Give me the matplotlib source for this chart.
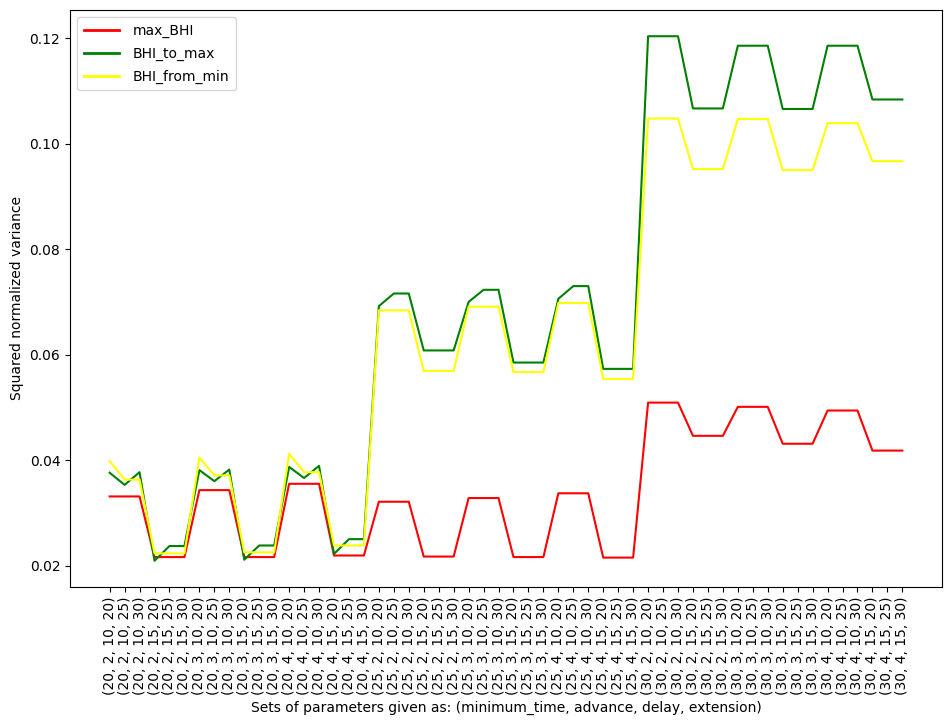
import itertools
import matplotlib
matplotlib.use("Agg")
import matplotlib.pyplot as plt

minimum_time = [20, 25, 30]
advance = [2, 3, 4]
delay = [10, 15]
extension = [20, 25, 30]

labels = [str(t) for t in itertools.product(minimum_time, advance, delay, extension)]

max_BHI = [
    0.0331, 0.0331, 0.0331, 0.0216, 0.0216, 0.0216,
    0.0343, 0.0343, 0.0343, 0.0216, 0.0216, 0.0216,
    0.0355, 0.0355, 0.0355, 0.0219, 0.0219, 0.0219,
    0.0321, 0.0321, 0.0321, 0.0217, 0.0217, 0.0217,
    0.0328, 0.0328, 0.0328, 0.0216, 0.0216, 0.0216,
    0.0337, 0.0337, 0.0337, 0.0215, 0.0215, 0.0215,
    0.0509, 0.0509, 0.0509, 0.0446, 0.0446, 0.0446,
    0.0501, 0.0501, 0.0501, 0.0431, 0.0431, 0.0431,
    0.0494, 0.0494, 0.0494, 0.0418, 0.0418, 0.0418,
]

BHI_to_max = [
    0.0376, 0.0353, 0.0377, 0.0209, 0.0237, 0.0237,
    0.0381, 0.0360, 0.0382, 0.0211, 0.0238, 0.0238,
    0.0387, 0.0366, 0.0389, 0.0222, 0.0250, 0.0250,
    0.0692, 0.0716, 0.0716, 0.0608, 0.0608, 0.0608,
    0.0700, 0.0723, 0.0723, 0.0585, 0.0585, 0.0585,
    0.0706, 0.0730, 0.0730, 0.0573, 0.0573, 0.0573,
    0.1204, 0.1204, 0.1204, 0.1067, 0.1067, 0.1067,
    0.1186, 0.1186, 0.1186, 0.1066, 0.1066, 0.1066,
    0.1186, 0.1186, 0.1186, 0.1084, 0.1084, 0.1084,
]

BHI_from_min = [
    0.0398, 0.0363, 0.0363, 0.0223, 0.0223, 0.0223,
    0.0405, 0.0371, 0.0371, 0.0225, 0.0225, 0.0225,
    0.0412, 0.0377, 0.0377, 0.0238, 0.0238, 0.0238,
    0.0684, 0.0684, 0.0684, 0.0569, 0.0569, 0.0569,
    0.0691, 0.0691, 0.0691, 0.0567, 0.0567, 0.0567,
    0.0698, 0.0698, 0.0698, 0.0554, 0.0554, 0.0554,
    0.1048, 0.1048, 0.1048, 0.0952, 0.0952, 0.0952,
    0.1047, 0.1047, 0.1047, 0.0950, 0.0950, 0.0950,
    0.1039, 0.1039, 0.1039, 0.0967, 0.0967, 0.0967,
]

fig = plt.figure(figsize=(9.52, 7.26), dpi=100)
ax = fig.add_axes([70 / 952, 1 - 587 / 726, (942 - 70) / 952, (587 - 10) / 726])

x = list(range(len(labels)))
ax.plot(x, max_BHI, color="red", label="max_BHI")
ax.plot(x, BHI_to_max, color="green", label="BHI_to_max")
ax.plot(x, BHI_from_min, color="yellow", label="BHI_from_min")

ax.set_xticks(x)
ax.set_xticklabels(labels, rotation=90)
ax.set_xlabel("Sets of parameters given as: (minimum_time, advance, delay, extension)")
ax.set_ylabel("Squared normalized variance")
leg = ax.legend(loc="upper left", handlelength=2.5, labelspacing=0.62,
                handletextpad=1.0, borderpad=0.5)
for line in leg.get_lines():
    line.set_linewidth(2)

fig.savefig("out.png", dpi=100)
